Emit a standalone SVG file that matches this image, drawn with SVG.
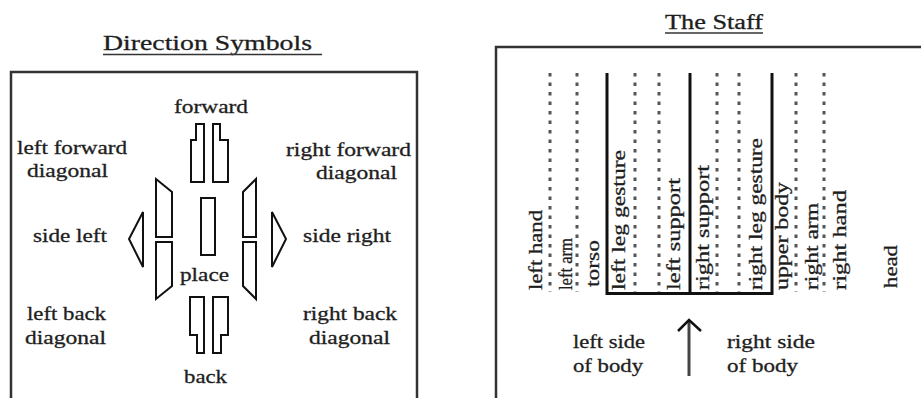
<svg xmlns="http://www.w3.org/2000/svg" width="921" height="398" viewBox="0 0 921 398">
  <style>
    .t { font-family: "Liberation Serif", "Times New Roman", serif; font-size: 19px; fill: #1e1e1e; stroke: #1e1e1e; stroke-width: 0.3; }
    .title { font-family: "Liberation Serif", "Times New Roman", serif; fill: #1e1e1e; stroke: #1e1e1e; stroke-width: 0.3; }
    .v { font-family: "Liberation Serif", "Times New Roman", serif; font-size: 18px; fill: #1e1e1e; stroke: #1e1e1e; stroke-width: 0.3; }
    .frame { fill: #fff; stroke: #333; stroke-width: 2.5; }
    .sym { fill: #fff; stroke: #111; stroke-width: 2; stroke-linejoin: miter; }
    .dot { stroke: #555; stroke-width: 3; stroke-dasharray: 3.5 6; fill: none; }
    .solid { stroke: #111; stroke-width: 3; fill: none; }
    .ul { stroke: #333; stroke-width: 1.5; }
  </style>

  <rect width="921" height="398" fill="#fff"/>

  <!-- Direction symbols panel -->
  <g id="direction-panel">
    <text class="title" x="103" y="50" font-size="22" textLength="209" lengthAdjust="spacingAndGlyphs">Direction Symbols</text>
    <line class="ul" x1="103" y1="54.5" x2="322" y2="54.5"/>
    <rect class="frame" x="11" y="72" width="406" height="340"/>
  </g>

  <g id="forward">
    <polygon class="sym" points="191,182 191,140 196,140 196,124 204,124 204,182"/>
    <polygon class="sym" points="213,182 213,124 220,124 220,140 228,140 228,182"/>
    <text class="t" x="174" y="113" textLength="74" lengthAdjust="spacingAndGlyphs">forward</text>
  </g>

  <g id="left-forward-diagonal">
    <polygon class="sym" points="156,179 172,192 172,237 156,237"/>
    <text class="t" x="17" y="154" textLength="110" lengthAdjust="spacingAndGlyphs">left forward</text>
    <text class="t" x="27" y="177" textLength="81" lengthAdjust="spacingAndGlyphs">diagonal</text>
  </g>

  <g id="right-forward-diagonal">
    <polygon class="sym" points="256,179 243,192 243,237 256,237"/>
    <text class="t" x="286" y="156" textLength="125" lengthAdjust="spacingAndGlyphs">right forward</text>
    <text class="t" x="316" y="179" textLength="81" lengthAdjust="spacingAndGlyphs">diagonal</text>
  </g>

  <g id="side-left">
    <polygon class="sym" points="143,212 129,239 143,267"/>
    <text class="t" x="33" y="242" textLength="74" lengthAdjust="spacingAndGlyphs">side left</text>
  </g>

  <g id="side-right">
    <polygon class="sym" points="272,212 286,239 272,267"/>
    <text class="t" x="303" y="242" textLength="88" lengthAdjust="spacingAndGlyphs">side right</text>
  </g>

  <g id="place">
    <rect class="sym" x="201" y="198" width="14" height="57"/>
    <text class="t" x="180" y="281" textLength="49" lengthAdjust="spacingAndGlyphs">place</text>
  </g>

  <g id="left-back-diagonal">
    <polygon class="sym" points="156,242 172,242 172,286 156,299"/>
    <text class="t" x="27" y="320" textLength="79" lengthAdjust="spacingAndGlyphs">left back</text>
    <text class="t" x="25" y="344" textLength="81" lengthAdjust="spacingAndGlyphs">diagonal</text>
  </g>

  <g id="right-back-diagonal">
    <polygon class="sym" points="243,242 256,242 256,299 243,286"/>
    <text class="t" x="303" y="320" textLength="94" lengthAdjust="spacingAndGlyphs">right back</text>
    <text class="t" x="309" y="344" textLength="81" lengthAdjust="spacingAndGlyphs">diagonal</text>
  </g>

  <g id="back">
    <polygon class="sym" points="190,297 204,297 204,353 197,353 197,335 190,335"/>
    <polygon class="sym" points="213,297 228,297 228,335 221,335 221,353 213,353"/>
    <text class="t" x="184" y="383" textLength="43" lengthAdjust="spacingAndGlyphs">back</text>
  </g>

  <!-- Staff panel -->
  <g id="staff-panel">
    <text class="title" x="665" y="29" font-size="20" textLength="98" lengthAdjust="spacingAndGlyphs">The Staff</text>
    <line class="ul" x1="665" y1="33" x2="763" y2="33"/>
    <rect class="frame" x="496" y="47" width="440" height="370"/>
  </g>

  <g id="staff-lines">
    <line class="dot" x1="550" y1="73" x2="550" y2="292"/>
    <line class="dot" x1="577" y1="73" x2="577" y2="292"/>
    <line class="dot" x1="635" y1="73" x2="635" y2="292"/>
    <line class="dot" x1="659" y1="73" x2="659" y2="292"/>
    <line class="dot" x1="717" y1="73" x2="717" y2="292"/>
    <line class="dot" x1="739" y1="73" x2="739" y2="292"/>
    <line class="dot" x1="796" y1="73" x2="796" y2="292"/>
    <line class="dot" x1="824" y1="73" x2="824" y2="292"/>
    <polyline class="solid" points="607,73 607,293.5 772,293.5 772,73"/>
    <line class="solid" x1="690" y1="73" x2="690" y2="293.5"/>
  </g>

  <g id="column-labels">
    <text class="v" transform="translate(542,290) rotate(-90)" textLength="80" lengthAdjust="spacingAndGlyphs">left hand</text>
    <text class="v" transform="translate(572,290) rotate(-90)" font-size="17" textLength="52" lengthAdjust="spacingAndGlyphs">left arm</text>
    <text class="v" transform="translate(599,287) rotate(-90)" textLength="47" lengthAdjust="spacingAndGlyphs">torso</text>
    <text class="v" transform="translate(625,290) rotate(-90)" textLength="140" lengthAdjust="spacingAndGlyphs">left leg gesture</text>
    <text class="v" transform="translate(680,290) rotate(-90)" textLength="112" lengthAdjust="spacingAndGlyphs">left support</text>
    <text class="v" transform="translate(709,290) rotate(-90)" textLength="125" lengthAdjust="spacingAndGlyphs">right support</text>
    <text class="v" transform="translate(762,290) rotate(-90)" textLength="152" lengthAdjust="spacingAndGlyphs">right leg gesture</text>
    <text class="v" transform="translate(788,290) rotate(-90)" textLength="108" lengthAdjust="spacingAndGlyphs">upper body</text>
    <text class="v" transform="translate(818,290) rotate(-90)" textLength="87" lengthAdjust="spacingAndGlyphs">right arm</text>
    <text class="v" transform="translate(846,290) rotate(-90)" textLength="100" lengthAdjust="spacingAndGlyphs">right hand</text>
    <text class="v" transform="translate(897,288) rotate(-90)" textLength="43" lengthAdjust="spacingAndGlyphs">head</text>
  </g>

  <g id="connectors">
    <line x1="689" y1="321" x2="689" y2="376" stroke="#444" stroke-width="3"/>
    <polyline points="678,331 689,320 701,331" fill="none" stroke="#111" stroke-width="2.5"/>
  </g>

  <g id="body-sides">
    <text class="t" x="573" y="348" textLength="72" lengthAdjust="spacingAndGlyphs">left side</text>
    <text class="t" x="573" y="372" textLength="70" lengthAdjust="spacingAndGlyphs">of body</text>
    <text class="t" x="727" y="348" textLength="88" lengthAdjust="spacingAndGlyphs">right side</text>
    <text class="t" x="727" y="372" textLength="71" lengthAdjust="spacingAndGlyphs">of body</text>
  </g>
</svg>
